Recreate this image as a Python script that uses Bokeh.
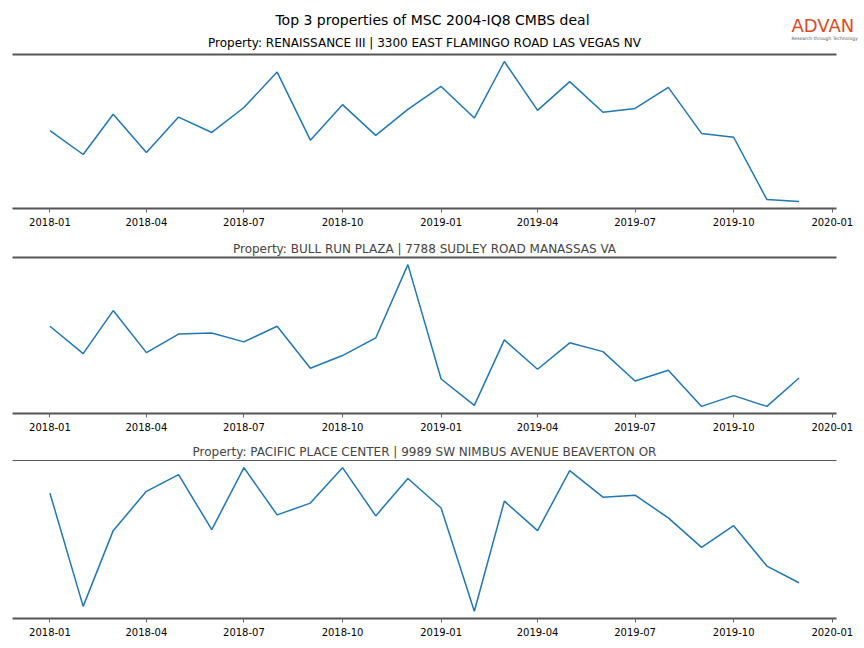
import pandas as pd
from bokeh.plotting import figure
from bokeh.layouts import column
from bokeh.models import (Range1d, FixedTicker, DatetimeTickFormatter, Title, Label,
                          LinearAxis)
from bokeh.embed import file_html
from bokeh.resources import INLINE

months = ["2018-01", "2018-02", "2018-03", "2018-04", "2018-05", "2018-06",
          "2018-07", "2018-08", "2018-09", "2018-10", "2018-11", "2018-12",
          "2019-01", "2019-02", "2019-03", "2019-04", "2019-05", "2019-06",
          "2019-07", "2019-08", "2019-09", "2019-10", "2019-11", "2019-12"]

suptitle = "Top 3 properties of MSC 2004-IQ8 CMBS deal"
titles = ["Property: RENAISSANCE III | 3300 EAST FLAMINGO ROAD LAS VEGAS NV",
          "Property: BULL RUN PLAZA | 7788 SUDLEY ROAD MANASSAS VA",
          "Property: PACIFIC PLACE CENTER | 9989 SW NIMBUS AVENUE BEAVERTON OR"]
logo_text = "ADVAN"
logo_sub = "Research through Technology"

renaissance = [810, 560, 980, 580, 950, 790, 1050, 1420, 710, 1080, 760, 1030,
               1270, 940, 1530, 1020, 1320, 1000, 1040, 1260, 780, 740, 90, 70]
bull_run = [890, 610, 1050, 620, 810, 820, 730, 890, 460, 590, 770, 1520,
            350, 80, 750, 450, 720, 630, 330, 440, 70, 180, 70, 360]
pacific = [1270, 120, 890, 1290, 1460, 900, 1530, 1050, 1170, 1530, 1040, 1420,
           1120, 70, 1190, 890, 1500, 1230, 1250, 1020, 720, 940, 530, 360]

tick_labels = ["2018-01", "2018-04", "2018-07", "2018-10", "2019-01",
               "2019-04", "2019-07", "2019-10", "2020-01"]

FONT = "DejaVu Sans"
SPINE = "#555555"
dates = pd.to_datetime(months)
ticks_ms = [pd.Timestamp(t).value / 1e6 for t in tick_labels]
d0 = dates[0].value / 1e6
d1 = dates[-1].value / 1e6
xpad = 0.05 * (d1 - d0)

# header: figure title, first panel title and logo (frame starts at x=12)
header = figure(frame_width=848, frame_height=50, output_backend="svg",
                toolbar_location=None, min_border_left=12, min_border_right=0,
                min_border_top=0, min_border_bottom=0,
                x_range=Range1d(0, 1), y_range=Range1d(0, 1),
                x_axis_location=None, y_axis_location=None,
                outline_line_color=None)
header.xgrid.visible = False
header.ygrid.visible = False
header.add_layout(Label(x=420, y=31, x_units="screen", y_units="screen",
                        text=suptitle, text_align="center", text_baseline="middle",
                        text_font=FONT, text_font_size="14px", text_color="black"))
header.add_layout(Label(x=412, y=8, x_units="screen", y_units="screen",
                        text=titles[0], text_align="center", text_baseline="middle",
                        text_font=FONT, text_font_size="12px", text_color="black"))
header.add_layout(Label(x=779, y=25, x_units="screen", y_units="screen",
                        text=logo_text, text_align="left", text_baseline="middle",
                        text_font=FONT, text_font_size="18px", text_color="#e04a22"))
header.add_layout(Label(x=779, y=12, x_units="screen", y_units="screen",
                        text=logo_sub, text_align="left", text_baseline="middle",
                        text_font=FONT, text_font_size="4.5px", text_color="#555555"))


def panel(title, values, top_w, fh, min_top, min_bottom):
    vmin, vmax = min(values), max(values)
    ypad = 0.05 * (vmax - vmin)
    p = figure(x_axis_type="datetime", frame_width=824, frame_height=fh,
               output_backend="svg", toolbar_location=None,
               min_border_left=12, min_border_right=20,
               min_border_top=min_top, min_border_bottom=min_bottom,
               x_range=Range1d(d0 - xpad, d1 + xpad),
               y_range=Range1d(vmin - ypad, vmax + ypad),
               y_axis_location=None, outline_line_color=None)
    p.line(dates, values, line_color="#1f77b4", line_width=1.5)
    p.xgrid.visible = False
    p.ygrid.visible = False
    # bottom date axis (styled before the top spine axis is added)
    ax = p.below[0]
    ax.ticker = FixedTicker(ticks=ticks_ms)
    fmt = "%Y-%m"
    ax.formatter = DatetimeTickFormatter(milliseconds=fmt, seconds=fmt, minsec=fmt,
                                         minutes=fmt, hourmin=fmt, hours=fmt,
                                         days=fmt, months=fmt, years=fmt)
    ax.axis_line_color = SPINE
    ax.axis_line_width = 2
    ax.major_tick_line_color = "#666666"
    ax.major_tick_out = 4
    ax.major_tick_in = 0
    ax.minor_tick_line_color = None
    ax.major_label_text_font = FONT
    ax.major_label_text_font_size = "10px"
    ax.major_label_text_color = "black"
    ax.major_label_standoff = 5
    # top spine: an axis with no ticks or labels
    top = LinearAxis(ticker=FixedTicker(ticks=[]), axis_line_color=SPINE,
                     axis_line_width=top_w, major_tick_line_color=None,
                     minor_tick_line_color=None, major_tick_out=0, major_tick_in=0,
                     minor_tick_out=0, minor_tick_in=0,
                     major_label_text_font_size="0px", major_label_standoff=0)
    p.add_layout(top, "above")
    if title:
        p.add_layout(Title(text=title, align="center", text_font=FONT,
                           text_font_size="12px", text_font_style="normal",
                           standoff=4), "above")
    p.border_fill_color = "white"
    return p


p1 = panel(None, renaissance, 2, 154, 4, 24)
p2 = panel(titles[1], bull_run, 2, 156, 25, 24)
p3 = panel(titles[2], pacific, 1, 158, 23, 24)

layout = column(header, p1, p2, p3, spacing=0)
open("out.html", "w").write(file_html(layout, INLINE))
